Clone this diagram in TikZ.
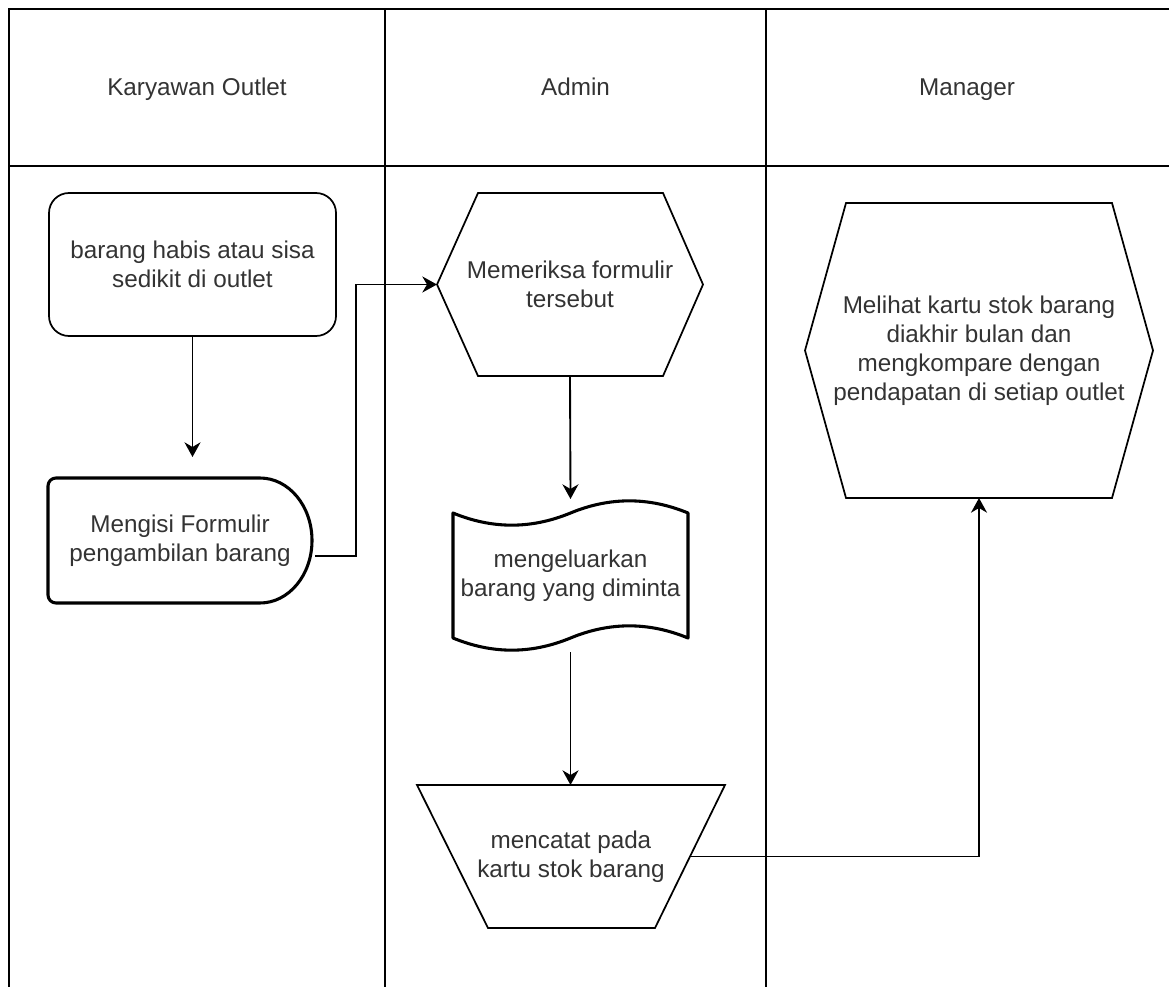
\documentclass[tikz,border=0pt]{standalone}
\usepackage{fontspec}
\setmainfont{Liberation Sans}
\usetikzlibrary{arrows.meta,calc}
\definecolor{txt}{RGB}{51,51,51}
\newcommand\dgfont{\fontsize{18.2}{21.8}\selectfont}
\tikzset{
  lane/.style={draw=black, line width=1.4pt},
  lbl/.style={font=\dgfont, text=txt, align=center, inner sep=0pt, outer sep=0pt},
  shp/.style={draw=black, line width=1.3pt, line join=miter},
  thk/.style={draw=black, line width=2.3pt, line join=round},
  arr/.style={draw=black, line width=1.4pt, -{Stealth[length=11pt,width=12pt,inset=3.5pt]}},
}
\begin{document}
\begin{tikzpicture}[x=0.75pt,y=0.75pt]
\useasboundingbox (0,0) rectangle (1169,-987);
% swimlanes
\draw[lane] (1169,-9) -- (9,-9) -- (9,-987);
\draw[lane] (9,-166) -- (1169,-166);
\draw[lane] (385,-9) -- (385,-987);
\draw[lane] (766,-9) -- (766,-987);
\node[lbl, anchor=base] (h1) at (197,-96) {Karyawan Outlet};
\node[lbl, anchor=base] (h2) at (575.5,-96) {Admin};
\node[lbl, anchor=base] (h3) at (967,-96) {Manager};

% start: rounded rectangle
\node[lbl, shp, rounded corners=15pt, minimum width=215.25pt, minimum height=107.25pt] (s1) at (192.5,-264.5) {barang habis atau sisa\\sedikit di outlet};

% delay shape
\draw[thk] (260,-603) arc[start angle=-90,end angle=90,x radius=52,y radius=62.5]
  [rounded corners=6pt] -- (48,-478) -- (48,-603) -- (260,-603);
\node[lbl, minimum width=198pt, minimum height=93.75pt] (s2) at (180,-540.5) {Mengisi Formulir\\pengambilan barang};
\coordinate (s2out) at (315,-556);

% hexagon 1
\draw[shp] (437,-284.5) -- (478,-193) -- (663,-193) -- (703,-284.5) -- (663,-376) -- (478,-376) -- cycle;
\node[lbl, minimum width=199.5pt, minimum height=137.25pt] (s3) at (570,-284.5) {Memeriksa formulir\\tersebut};

% tape shape
\draw[thk] (453,-513) .. controls (492.2,-529.2) and (531.3,-529.2) .. (570.5,-513)
  .. controls (609.7,-496.8) and (648.8,-496.8) .. (688,-513)
  -- (688,-638)
  .. controls (648.8,-621.8) and (609.7,-621.8) .. (570.5,-638)
  .. controls (531.3,-654.2) and (492.2,-654.2) .. (453,-638) -- cycle;
\node[lbl, minimum width=176.25pt, minimum height=114.75pt] (s4) at (570.5,-575.5) {mengeluarkan\\barang yang diminta};

% trapezoid
\draw[shp] (417,-785) -- (725,-785) -- (655,-928) -- (488,-928) -- cycle;
\node[lbl, minimum width=231pt, minimum height=107.25pt] (s5) at (571,-856.5) {mencatat pada\\kartu stok barang};
\coordinate (s5out) at (690,-856.5);

% hexagon 2
\draw[shp] (805,-350.5) -- (846,-203) -- (1112,-203) -- (1153,-350.5) -- (1112,-498) -- (846,-498) -- cycle;
\node[lbl, minimum width=261pt, minimum height=221.25pt] (s6) at (979,-350.5) {Melihat kartu stok barang\\diakhir bulan dan\\mengkompare dengan\\pendapatan di setiap outlet};

% connectors
\draw[arr, shorten >=15.75pt] (s1.south) -- (s1.south |- s2.north);
\draw[arr] (s2out) -- (356,-556) |- (s3.west);
\draw[arr] (s3.south) -- (s4.north);
\draw[arr] (s4.south) -- (s4.south |- s5.north);
\draw[arr] (s5out) -| (s6.south);
\end{tikzpicture}
\end{document}
